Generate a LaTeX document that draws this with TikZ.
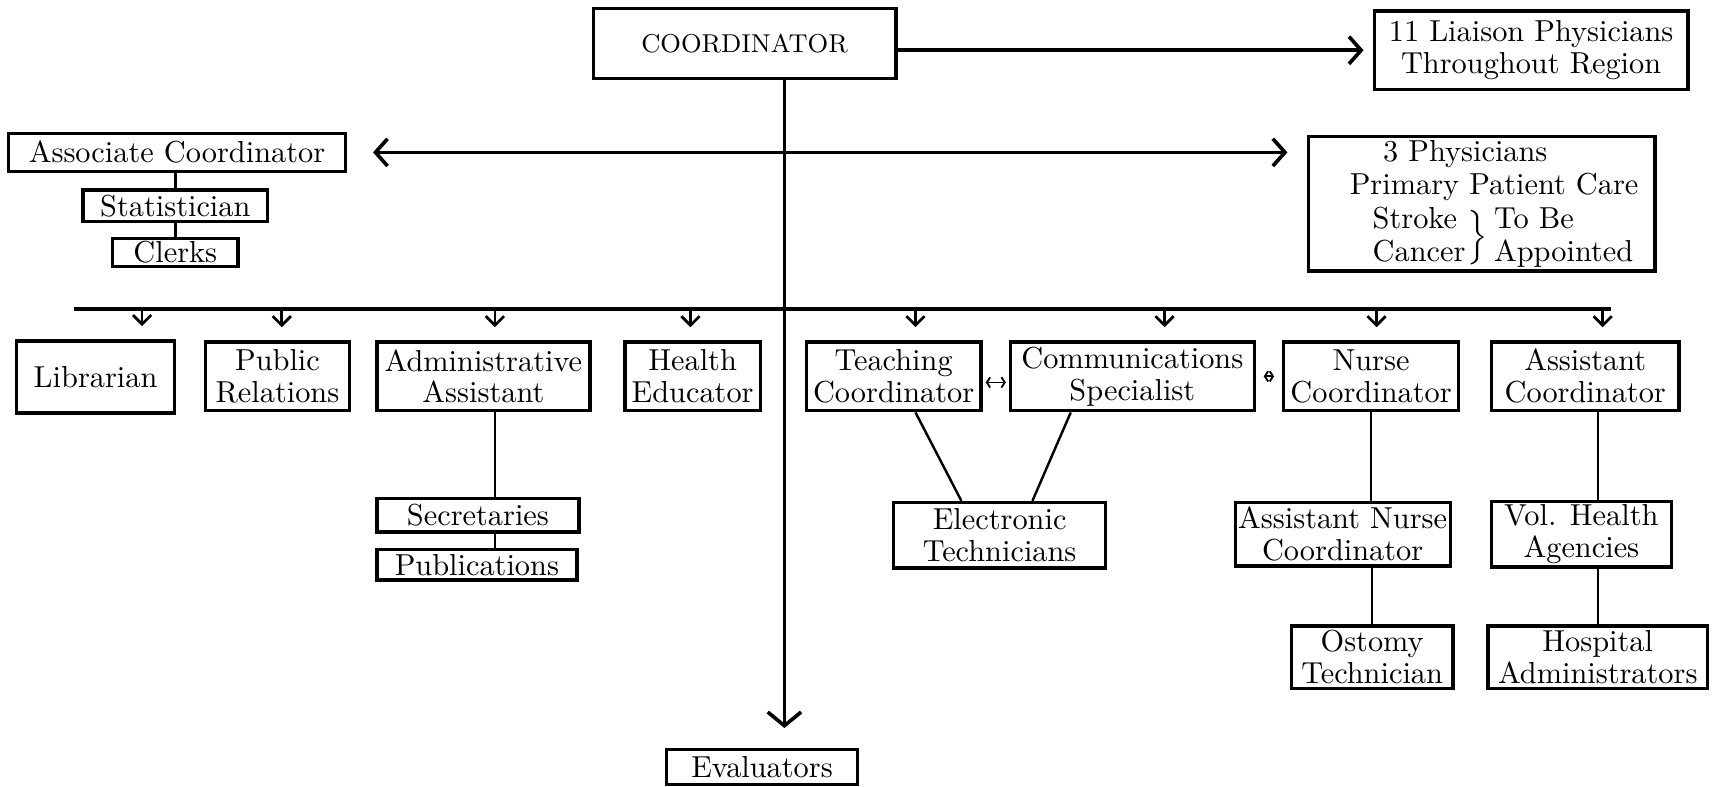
\documentclass[tikz,border=0pt]{standalone}
\usepackage{tikz}
\usetikzlibrary{arrows.meta,calc}
\tikzset{
  unitbox/.style 2 args={draw,line width=1.1pt,inner sep=1pt,align=center,minimum width=#1*0.36pt,minimum height=#2*0.36pt},
  link/.style={line width=0.8pt},
  bigarrow/.style={line width=1.2pt,-{Straight Barb[length=4pt,width=9pt]}},
  busarrow/.style={line width=0.9pt,-{Straight Barb[length=3pt,width=6pt]},shorten >=4.3pt},
  tinyarrow/.style={line width=0.6pt,{Straight Barb[length=1.1pt,width=3.4pt]}-{Straight Barb[length=1.1pt,width=3.4pt]}}
}
\newcommand{\bracepair}{\smash{\raisebox{-5.5pt}{$\left.\vrule height 9.5pt depth 4.5pt width 0pt\right\}$}}}

\begin{document}
\begin{tikzpicture}[x=0.36pt,y=-0.36pt,font=\fontsize{10}{10.5}\selectfont]
\useasboundingbox (0,0) rectangle (1568,720);

\node[unitbox={277}{64},font=\fontsize{8.5}{10}\selectfont] (coord) at (681.5,40) {COORDINATOR};
\node[unitbox={287}{72}] (liaison) at (1401.5,46) {11 Liaison Physicians\\Throughout Region};
\node[unitbox={308}{35}] (assoc) at (162,139.5) {Associate Coordinator};
\node[unitbox={169}{29}] (stat) at (160.5,188.5) {Statistician};
\node[unitbox={115}{24}] (clerks) at (160.5,231) {Clerks};
\node[unitbox={317}{123}] (phys) at (1356.5,186.5) {3 Physicians\hspace*{11pt}\\[0.5pt]
  \hspace*{8pt}Primary Patient Care\\[0.5pt]
  \hspace*{14pt}\makebox[28pt][l]{Stroke}\makebox[12pt]{\bracepair}\makebox[46pt][l]{To Be}\\[0.5pt]
  \hspace*{14pt}\makebox[28pt][l]{Cancer}\makebox[12pt]{}\makebox[46pt][l]{Appointed}};

\node[unitbox={145}{66}] (lib) at (87.5,345) {Librarian};
\node[unitbox={132}{63}] (pubrel) at (254,344.5) {Public\\Relations};
\node[unitbox={195}{63}] (admin) at (442.5,344.5) {Administrative\\Assistant};
\node[unitbox={124}{63}] (health) at (634,344.5) {Health\\Educator};
\node[unitbox={160}{63}] (teach) at (818,344.5) {Teaching\\Coordinator};
\node[unitbox={223}{63}] (comm) at (1036.5,344.5) {Communications\\Specialist};
\node[unitbox={160}{63}] (nurse) at (1255,344.5) {Nurse\\Coordinator};
\node[unitbox={172}{63}] (asstc) at (1451,344.5) {Assistant\\Coordinator};

\node[unitbox={185}{31}] (secr) at (437.5,471.5) {Secretaries};
\node[unitbox={183}{28}] (publ) at (436.5,517) {Publications};
\node[unitbox={194}{60}] (elec) at (915,490) {Electronic\\Technicians};
\node[unitbox={192}{58}] (asnurse) at (1229,489) {Assistant Nurse\\Coordinator};
\node[unitbox={165}{58}] (volh) at (1447.5,489) {Vol. Health\\Agencies};
\node[unitbox={148}{57}] (ostomy) at (1256,601.5) {Ostomy\\Technician};
\node[unitbox={201}{57}] (hosp) at (1462.5,601.5) {Hospital\\Administrators};
\node[unitbox={175}{32}] (eval) at (697.5,702) {Evaluators};

\coordinate (tx) at (718,0);
\coordinate (ax) at (453,0);
\coordinate (busL) at (68,283);
\coordinate (busR) at (1475,283);

\draw[bigarrow] (coord.east |- liaison.west) -- ([xshift=-3pt]liaison.west);
\draw[line width=1.2pt,{Straight Barb[length=4pt,width=9pt]}-{Straight Barb[length=4pt,width=9pt]},shorten <=8.6pt,shorten >=6.5pt]
  (assoc.east) -- (assoc.east -| phys.west);
\draw[line width=1.2pt,-{Straight Barb[length=4.5pt,width=11pt]},shorten >=6.5pt] (coord.south -| tx) -- (eval.north -| tx);
\draw[line width=1.2pt] (busL) -- (busR);
\foreach \x/\n in {130/lib,258/pubrel,453/admin,632/health,838/teach,1066/comm,1260/nurse,1467/asstc}{
  \coordinate (bus-\n) at (\x,283);
  \draw[busarrow] (bus-\n) -- (bus-\n |- \n.north);
}

\draw[tinyarrow,shorten <=1pt,shorten >=1pt] ([yshift=-2pt]teach.east) -- ([yshift=-2pt]comm.west);
\draw[tinyarrow,shorten <=2.6pt,shorten >=2.6pt] (comm.east) -- (nurse.west);

\draw[link] (stat.north |- assoc.south) -- (stat.north);
\draw[link] (clerks.north |- stat.south) -- (clerks.north);
\draw[link] (admin.south -| ax) -- (secr.north -| ax);
\draw[link] (secr.south -| ax) -- (publ.north -| ax);
\draw[link] ([xshift=7.2pt]teach.south) -- ([xshift=-12.6pt]elec.north);
\draw[link] ([xshift=-20.3pt]comm.south) -- ([xshift=10.8pt]elec.north);
\draw[link] (nurse.south) -- (nurse.south |- asnurse.north);
\draw[link] (ostomy.north |- asnurse.south) -- (ostomy.north);
\draw[link] (hosp.north |- asstc.south) -- (hosp.north |- volh.north);
\draw[link] (hosp.north |- volh.south) -- (hosp.north);
\end{tikzpicture}
\end{document}
